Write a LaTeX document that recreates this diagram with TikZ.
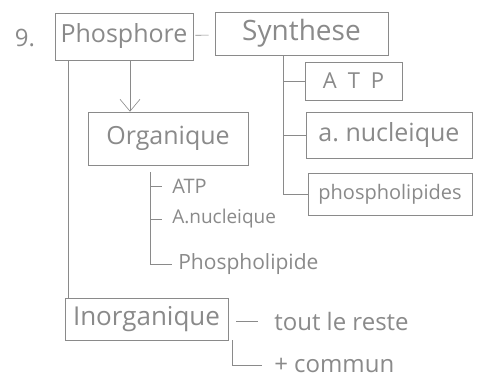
\documentclass[tikz,border=0pt]{standalone}
\usepackage{fontspec}
\setmainfont{Open Sans}
\usetikzlibrary{arrows.meta,positioning}
\definecolor{pencil}{RGB}{138,138,138}

\begin{document}
\begin{tikzpicture}[x=1pt,y=-1pt,semithick,draw=pencil,text=pencil,
    >={Straight Barb[length=12pt,width=20pt]},font=\fontsize{22}{24}\selectfont]
  \tikzstyle{box}=[draw=pencil,rectangle,inner sep=0pt]
  \tikzstyle{leaf}=[inner sep=2pt,anchor=west]
  \useasboundingbox[fill=white] (0,0) rectangle (488,386);

  \node[font=\fontsize{24}{26}\selectfont] (N) at (25,38) {9.};
  \node[box,minimum width=138,minimum height=47] (P) at (124,36.5) {\fontsize{25}{27}\selectfont Phosphore};
  \node[box,minimum width=173,minimum height=43] (S) at (301.5,33.5) {\fontsize{28}{30}\selectfont Synthese};
  \node[box,minimum width=97,minimum height=38] (S1) at (353.5,81) {A\,\,\,T\,\,\,P};
  \node[box,minimum width=166,minimum height=46] (S2) at (389,135) {\fontsize{25}{27}\selectfont a.\ nucleique};
  \node[box,minimum width=164,minimum height=42] (S3) at (390,194) {\fontsize{20}{22}\selectfont phospholipides};
  \node[box,minimum width=160,minimum height=53] (O) at (168,138.5) {\fontsize{25}{27}\selectfont Organique};
  \node[leaf,font=\fontsize{20}{22}\selectfont] (O1) at (170,186) {ATP};
  \node[leaf,font=\fontsize{19}{21}\selectfont] (O2) at (170,219) {A.nucleique};
  \node[leaf,font=\fontsize{21}{23}\selectfont] (O3) at (176,264) {Phospholipide};
  \node[box,minimum width=163,minimum height=42] (I) at (146.5,319) {\fontsize{26}{28}\selectfont Inorganique};
  \node[leaf,font=\fontsize{24}{26}\selectfont] (I1) at (272,321) {tout le reste};
  \node[leaf,font=\fontsize{24}{26}\selectfont] (I2) at (272,365) {+ commun};

  \coordinate (ST) at (283,55);
  \coordinate (OT) at (150,172);

  \path[draw=pencil] (P) edge[shorten <=2pt,shorten >=6pt] (S)
    ([xshift=6]P.south) edge[->] ([xshift=6]P.south |- O.north)
    ([xshift=-56]P.south) edge ([xshift=-56]P.south |- I.north);
  \draw (ST) |- (S3.west);
  \draw (S1.west -| ST) -- (S1.west);
  \draw (S2.west -| ST) -- (S2.west);
  \draw (OT) |- ([xshift=-4]O3.west);
  \draw (O1.west -| OT) -- ([xshift=-8]O1.west);
  \draw (O2.west -| OT) -- ([xshift=-8]O2.west);
  \draw[shorten <=8pt,shorten >=14pt] (I.east |- I1.west) -- (I1.west);
  \draw[shorten >=10pt] ([xshift=4]I.south east) |- (I2.west);
\end{tikzpicture}
\end{document}
